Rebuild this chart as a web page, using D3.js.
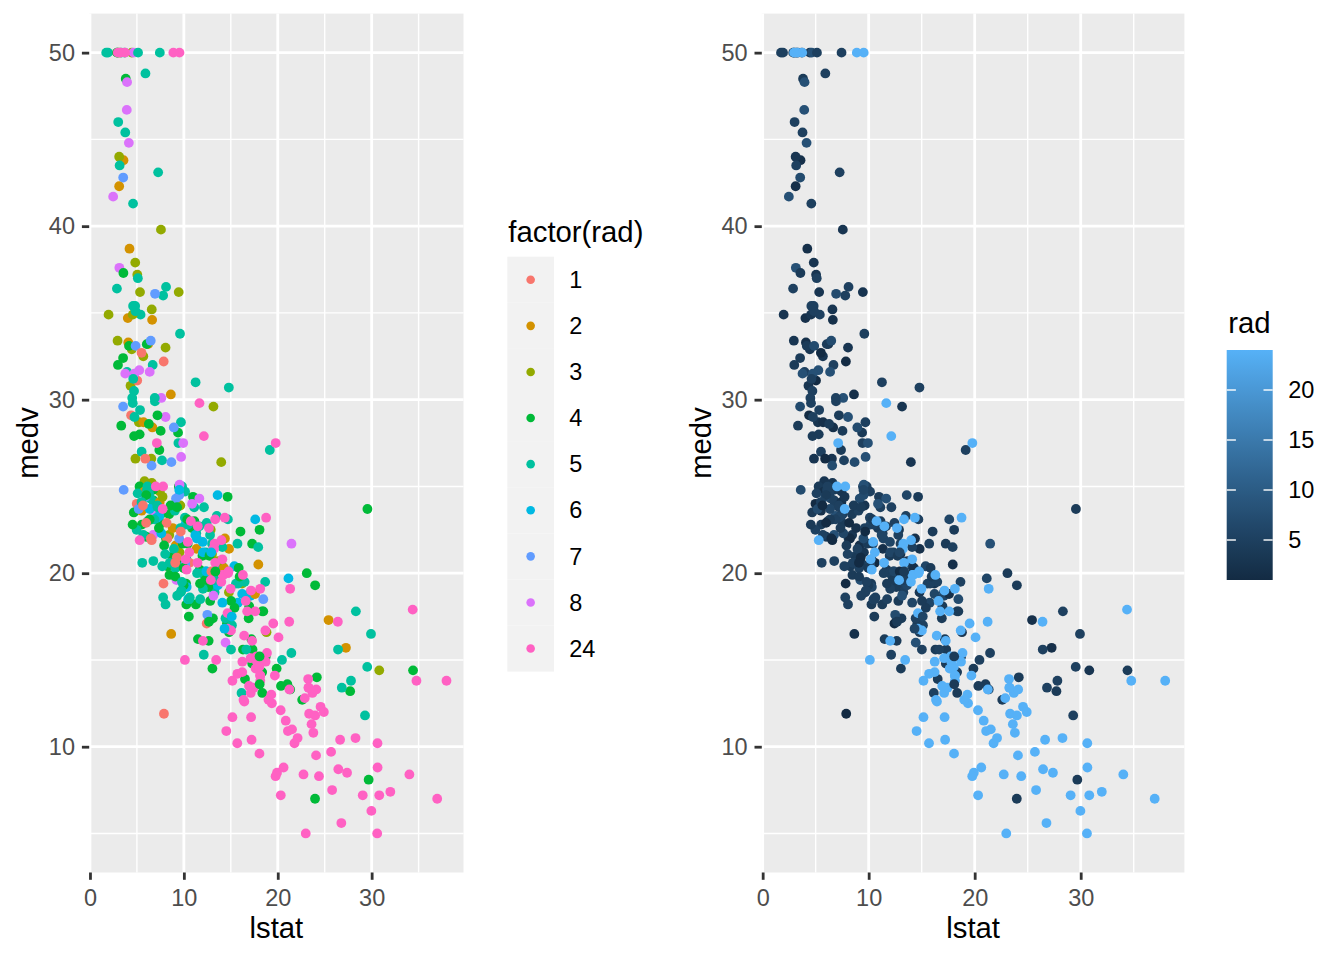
<!DOCTYPE html>
<html>
<head>
<meta charset="utf-8">
<script src="https://cdn.jsdelivr.net/npm/d3@7"></script>
<style>
  body { margin: 0; background: #ffffff; }
  text { font-family: "Liberation Sans", Arial, sans-serif; }
</style>
</head>
<body>
<div id="chart"></div>
<script>
// Boston housing: lstat, medv and rad for each tract, in row order
const lstat = [
  4.98, 9.14, 4.03, 2.94, 5.33, 5.21, 12.43, 19.15, 29.93, 17.10,
  20.45, 13.27, 15.71, 8.26, 10.26, 8.47, 6.58, 14.67, 11.69, 11.28,
  21.02, 13.83, 18.72, 19.88, 16.30, 16.51, 14.81, 17.28, 12.80, 11.98,
  22.60, 13.04, 27.71, 18.35, 20.34, 9.68, 11.41, 8.77, 10.13, 4.32,
  1.98, 4.84, 5.81, 7.44, 9.55, 10.21, 14.15, 18.80, 30.81, 16.20,
  13.45, 9.43, 5.28, 8.43, 14.80, 4.81, 5.77, 3.95, 6.86, 9.22,
  13.15, 14.44, 6.73, 9.50, 8.05, 4.67, 10.24, 8.10, 13.09, 8.79,
  6.72, 9.88, 5.52, 7.54, 6.78, 8.94, 11.97, 10.27, 12.34, 9.10,
  5.29, 7.22, 6.72, 7.51, 9.62, 6.53, 12.86, 8.44, 5.50, 5.70,
  8.81, 8.20, 8.16, 6.21, 10.59, 6.65, 11.34, 4.21, 3.57, 6.19,
  9.42, 7.67, 10.63, 13.44, 12.33, 16.47, 18.66, 14.09, 12.27, 15.55,
  13.00, 10.16, 16.21, 17.09, 10.45, 15.76, 12.04, 10.30, 15.37, 13.61,
  14.37, 14.27, 17.93, 25.41, 17.58, 14.81, 27.26, 17.19, 15.39, 18.34,
  12.60, 12.26, 11.12, 15.03, 17.31, 16.96, 16.90, 14.59, 21.32, 18.46,
  24.16, 34.41, 26.82, 26.42, 29.29, 27.80, 16.65, 29.53, 28.32, 21.45,
  14.10, 13.28, 12.12, 15.79, 15.12, 15.02, 16.14, 4.59, 6.43, 7.39,
  5.50, 1.73, 1.92, 3.32, 11.64, 9.81, 3.70, 12.14, 11.10, 11.32,
  14.43, 12.03, 14.69, 9.04, 9.64, 5.33, 10.11, 6.29, 6.92, 5.04,
  7.56, 9.45, 4.82, 5.68, 13.98, 13.15, 4.45, 6.68, 4.56, 5.39,
  5.10, 4.69, 2.87, 5.03, 4.38, 2.97, 4.08, 8.61, 6.62, 4.56,
  4.45, 7.43, 3.11, 3.81, 2.88, 10.87, 10.97, 18.06, 14.66, 23.09,
  17.27, 23.98, 16.03, 9.38, 29.55, 9.47, 13.51, 9.69, 17.92, 10.50,
  9.71, 21.46, 9.93, 7.60, 4.14, 4.63, 3.13, 6.36, 3.92, 3.76,
  11.65, 5.25, 2.47, 3.95, 8.05, 10.88, 9.54, 4.73, 6.36, 7.37,
  11.38, 12.40, 11.22, 5.19, 12.50, 18.46, 9.16, 10.15, 9.52, 6.56,
  5.90, 3.59, 3.53, 3.54, 6.57, 9.25, 3.11, 5.12, 7.79, 6.90,
  9.59, 7.26, 5.91, 11.25, 8.10, 10.45, 14.79, 7.44, 3.16, 13.65,
  13.00, 6.59, 7.73, 6.58, 3.53, 2.98, 6.05, 4.16, 7.19, 4.85,
  3.76, 4.59, 3.01, 3.16, 7.85, 8.23, 12.93, 7.14, 7.60, 9.51,
  3.33, 3.56, 4.70, 8.58, 10.40, 6.27, 7.39, 15.84, 4.97, 4.74,
  6.07, 9.50, 8.67, 4.86, 6.93, 8.93, 6.47, 7.53, 4.54, 9.97,
  12.64, 5.98, 11.72, 7.90, 9.28, 11.50, 18.33, 15.94, 10.36, 12.73,
  7.20, 6.87, 7.70, 11.74, 6.12, 5.08, 6.15, 12.79, 9.97, 7.34,
  9.09, 12.43, 7.83, 5.68, 6.75, 8.01, 9.80, 10.56, 8.51, 9.74,
  9.29, 5.49, 8.65, 7.18, 4.61, 10.53, 12.67, 6.36, 5.99, 5.89,
  5.98, 5.49, 7.79, 4.50, 8.05, 5.57, 17.60, 13.27, 11.48, 12.67,
  7.79, 14.19, 10.19, 14.64, 5.29, 7.12, 14.00, 13.33, 3.26, 3.73,
  2.96, 9.53, 8.88, 34.77, 37.97, 13.44, 23.24, 21.24, 23.69, 21.78,
  17.21, 21.08, 23.60, 24.56, 30.63, 30.81, 28.28, 31.99, 30.62, 20.85,
  17.11, 18.76, 25.68, 15.17, 16.35, 17.12, 19.37, 19.92, 30.59, 29.97,
  26.77, 20.32, 20.31, 19.77, 27.38, 22.98, 23.34, 12.13, 26.40, 19.78,
  10.11, 21.22, 34.37, 20.08, 36.98, 29.05, 25.79, 26.64, 20.62, 22.74,
  15.02, 15.70, 14.10, 23.29, 17.16, 24.39, 15.69, 14.52, 21.52, 24.08,
  17.64, 19.69, 12.03, 16.22, 15.17, 23.27, 18.05, 26.45, 34.02, 22.88,
  22.11, 19.52, 16.59, 18.85, 23.79, 23.98, 17.79, 16.44, 18.13, 19.31,
  17.44, 17.73, 17.27, 16.74, 18.71, 18.13, 19.01, 16.94, 16.23, 14.70,
  16.42, 14.65, 13.99, 10.29, 13.22, 14.13, 17.15, 21.32, 18.13, 14.76,
  16.29, 12.87, 14.36, 11.66, 18.14, 24.10, 18.68, 24.91, 18.03, 13.11,
  10.74, 7.74, 7.01, 10.42, 13.34, 10.58, 14.98, 11.45, 18.06, 23.97,
  29.68, 18.07, 13.35, 12.01, 13.59, 17.60, 21.14, 14.10, 12.92, 15.10,
  14.33, 9.67, 9.08, 5.64, 6.48, 7.88
];

const medv = [
  24.0, 21.6, 34.7, 33.4, 36.2, 28.7, 22.9, 27.1, 16.5, 18.9,
  15.0, 18.9, 21.7, 20.4, 18.2, 19.9, 23.1, 17.5, 20.2, 18.2,
  13.6, 19.6, 15.2, 14.5, 15.6, 13.9, 16.6, 14.8, 18.4, 21.0,
  12.7, 14.5, 13.2, 13.1, 13.5, 18.9, 20.0, 21.0, 24.7, 30.8,
  34.9, 26.6, 25.3, 24.7, 21.2, 19.3, 20.0, 16.6, 14.4, 19.4,
  19.7, 20.5, 25.0, 23.4, 18.9, 35.4, 24.7, 31.6, 23.3, 19.6,
  18.7, 16.0, 22.2, 25.0, 33.0, 23.5, 19.4, 22.0, 17.4, 20.9,
  24.2, 21.7, 22.8, 23.4, 24.1, 21.4, 20.0, 20.8, 21.2, 20.3,
  28.0, 23.9, 24.8, 22.9, 23.9, 26.6, 22.5, 22.2, 23.6, 28.7,
  22.6, 22.0, 22.9, 25.0, 20.6, 28.4, 21.4, 38.7, 43.8, 33.2,
  27.5, 26.5, 18.6, 19.3, 20.1, 19.5, 19.5, 20.4, 19.8, 19.4,
  21.7, 22.8, 18.8, 18.7, 18.5, 18.3, 21.2, 19.2, 20.4, 19.3,
  22.0, 20.3, 20.5, 17.3, 18.8, 21.4, 15.7, 16.2, 18.0, 14.3,
  19.2, 19.6, 23.0, 18.4, 15.6, 18.1, 17.4, 17.1, 13.3, 17.8,
  14.0, 14.4, 13.4, 15.6, 11.8, 13.8, 15.6, 14.6, 17.8, 15.4,
  21.5, 19.6, 15.3, 19.4, 17.0, 15.6, 13.1, 41.3, 24.3, 23.3,
  27.0, 50.0, 50.0, 50.0, 22.7, 25.0, 50.0, 23.8, 23.8, 22.3,
  17.4, 19.1, 23.1, 23.6, 22.6, 29.4, 23.2, 24.6, 29.9, 37.2,
  39.8, 36.2, 37.9, 32.5, 26.4, 29.6, 50.0, 32.0, 29.8, 34.9,
  37.0, 30.5, 36.4, 31.1, 29.1, 50.0, 33.3, 30.3, 34.6, 34.9,
  32.9, 24.1, 42.3, 48.5, 50.0, 22.6, 24.4, 22.5, 24.4, 20.0,
  21.7, 19.3, 22.4, 28.1, 23.7, 25.0, 23.3, 28.7, 21.5, 23.0,
  26.7, 21.7, 27.5, 30.1, 44.8, 50.0, 37.6, 31.6, 46.7, 31.5,
  24.3, 31.7, 41.7, 48.3, 29.0, 24.0, 25.1, 31.5, 23.7, 23.3,
  22.0, 20.1, 22.2, 23.7, 17.6, 18.5, 24.3, 20.5, 24.5, 26.2,
  24.4, 24.8, 29.6, 42.8, 21.9, 20.9, 44.0, 50.0, 36.0, 30.1,
  33.8, 43.1, 48.8, 31.0, 36.5, 22.8, 30.7, 50.0, 43.5, 20.7,
  21.1, 25.2, 24.4, 35.2, 32.4, 32.0, 33.2, 33.1, 29.1, 35.1,
  45.4, 35.4, 46.0, 50.0, 32.2, 22.0, 20.1, 23.2, 22.3, 24.8,
  28.5, 37.3, 27.9, 23.9, 21.7, 28.6, 27.1, 20.3, 22.5, 29.0,
  24.8, 22.0, 26.4, 33.1, 36.1, 28.4, 33.4, 28.2, 22.8, 20.3,
  16.1, 22.1, 19.4, 21.6, 23.8, 16.2, 17.8, 19.8, 23.1, 21.0,
  23.8, 23.1, 20.4, 18.5, 25.0, 24.6, 23.0, 22.2, 19.3, 22.6,
  19.8, 17.1, 19.4, 22.2, 20.7, 21.1, 19.5, 18.5, 20.6, 19.0,
  18.7, 32.7, 16.5, 23.9, 31.2, 17.5, 17.2, 23.1, 24.5, 26.6,
  22.9, 24.1, 18.6, 30.1, 18.2, 20.6, 17.8, 21.7, 22.7, 22.6,
  25.0, 19.9, 20.8, 16.8, 21.9, 27.5, 21.9, 23.1, 50.0, 50.0,
  50.0, 50.0, 50.0, 13.8, 13.8, 15.0, 13.9, 13.3, 13.1, 10.2,
  10.4, 10.9, 11.3, 12.3, 8.8, 7.2, 10.5, 7.4, 10.2, 11.5,
  15.1, 23.2, 9.7, 13.8, 12.7, 13.1, 12.5, 8.5, 5.0, 6.3,
  5.6, 7.2, 12.1, 8.3, 8.5, 5.0, 11.9, 27.9, 17.2, 27.5,
  15.0, 17.2, 17.9, 16.3, 7.0, 7.2, 7.5, 10.4, 8.8, 8.4,
  16.7, 14.2, 20.8, 13.4, 11.7, 8.3, 10.2, 10.9, 11.0, 9.5,
  14.5, 14.1, 16.1, 14.3, 11.7, 13.4, 9.6, 8.7, 8.4, 12.8,
  10.5, 17.1, 18.4, 15.4, 10.8, 11.8, 14.9, 12.6, 14.1, 13.0,
  13.4, 15.2, 16.1, 17.8, 14.9, 14.1, 12.7, 13.5, 14.9, 20.0,
  16.4, 17.7, 19.5, 20.2, 21.4, 19.9, 19.0, 19.1, 19.1, 20.1,
  19.9, 19.6, 23.2, 29.8, 13.8, 13.3, 16.7, 12.0, 14.6, 21.4,
  23.0, 23.7, 25.0, 21.8, 20.6, 21.2, 19.1, 20.6, 15.2, 7.0,
  8.1, 13.6, 20.1, 21.8, 24.5, 23.1, 19.7, 18.3, 21.2, 17.5,
  16.8, 22.4, 20.6, 23.9, 22.0, 11.9
];

const rad = [
  1, 2, 2, 3, 3, 3, 5, 5, 5, 5,
  5, 5, 5, 4, 4, 4, 4, 4, 4, 4,
  4, 4, 4, 4, 4, 4, 4, 4, 4, 4,
  4, 4, 4, 4, 4, 5, 5, 5, 5, 3,
  3, 3, 3, 3, 3, 3, 3, 3, 3, 3,
  4, 4, 4, 4, 3, 5, 2, 5, 8, 8,
  8, 8, 8, 8, 3, 4, 4, 4, 4, 4,
  4, 4, 4, 4, 5, 5, 5, 5, 5, 5,
  4, 4, 4, 4, 3, 3, 3, 3, 2, 2,
  2, 2, 1, 1, 1, 2, 2, 2, 2, 2,
  5, 5, 5, 5, 5, 5, 5, 5, 5, 5,
  5, 6, 6, 6, 6, 6, 6, 6, 6, 6,
  2, 2, 2, 2, 2, 2, 2, 4, 4, 4,
  4, 4, 4, 4, 4, 4, 4, 4, 4, 4,
  4, 4, 5, 5, 5, 5, 5, 5, 5, 5,
  5, 5, 5, 5, 5, 5, 5, 5, 5, 5,
  5, 5, 5, 5, 5, 5, 5, 5, 5, 5,
  5, 5, 5, 5, 5, 5, 5, 5, 5, 3,
  3, 3, 3, 3, 3, 3, 3, 5, 5, 5,
  5, 5, 5, 1, 1, 4, 2, 2, 2, 3,
  3, 2, 2, 4, 4, 4, 4, 4, 4, 4,
  4, 4, 4, 4, 4, 4, 5, 5, 5, 5,
  8, 8, 8, 8, 8, 8, 8, 8, 8, 8,
  8, 8, 8, 8, 8, 8, 8, 8, 6, 6,
  6, 6, 6, 7, 7, 7, 7, 7, 7, 7,
  7, 7, 7, 7, 1, 1, 3, 5, 5, 5,
  5, 5, 5, 5, 5, 5, 5, 5, 5, 3,
  3, 3, 3, 3, 4, 4, 4, 4, 4, 5,
  5, 5, 5, 1, 1, 1, 1, 6, 6, 6,
  4, 4, 4, 4, 4, 4, 4, 4, 5, 5,
  5, 7, 7, 7, 7, 7, 7, 4, 4, 4,
  4, 4, 4, 4, 4, 4, 4, 4, 4, 4,
  5, 5, 5, 5, 5, 5, 5, 5, 4, 4,
  4, 1, 1, 5, 5, 5, 5, 5, 5, 5,
  5, 1, 2, 5, 5, 4, 4, 4, 4, 1,
  1, 5, 5, 5, 5, 5, 24, 24, 24, 24,
  24, 24, 24, 24, 24, 24, 24, 24, 24, 24,
  24, 24, 24, 24, 24, 24, 24, 24, 24, 24,
  24, 24, 24, 24, 24, 24, 24, 24, 24, 24,
  24, 24, 24, 24, 24, 24, 24, 24, 24, 24,
  24, 24, 24, 24, 24, 24, 24, 24, 24, 24,
  24, 24, 24, 24, 24, 24, 24, 24, 24, 24,
  24, 24, 24, 24, 24, 24, 24, 24, 24, 24,
  24, 24, 24, 24, 24, 24, 24, 24, 24, 24,
  24, 24, 24, 24, 24, 24, 24, 24, 24, 24,
  24, 24, 24, 24, 24, 24, 24, 24, 24, 24,
  24, 24, 24, 24, 24, 24, 24, 24, 24, 24,
  24, 24, 24, 24, 24, 24, 24, 24, 24, 24,
  24, 24, 24, 24, 24, 24, 24, 24, 4, 4,
  4, 4, 4, 6, 6, 6, 6, 6, 6, 6,
  6, 1, 1, 1, 1, 1
];

const radLevels = [1, 2, 3, 4, 5, 6, 7, 8, 24];
const hueColors = ['#F8766D', '#D39200', '#93AA00', '#00BA38', '#00C19F', '#00B9E3', '#619CFF', '#DB72FB', '#FF61C3'];
const xMajor = [0, 10, 20, 30];
const xMinor = [5, 15, 25, 35];
const yMajor = [10, 20, 30, 40, 50];
const yMinor = [5, 15, 25, 35, 45];
const barTicks = [5, 10, 15, 20];

const W = 1344, H = 960;
const panelTop = 13.6, panelBottom = 872.5;
const ptR = 4.9;

const svg = d3.select('#chart')
  .append('svg')
  .attr('width', W)
  .attr('height', H);

const points = lstat.map((d, i) => ({ lstat: d, medv: medv[i], rad: rad[i] }));

// ggplot style 5% expansion of the data range
function expand(ext) {
  const pad = (ext[1] - ext[0]) * 0.05;
  return [ext[0] - pad, ext[1] + pad];
}
const xDomain = expand(d3.extent(lstat));
const yDomain = expand(d3.extent(medv));

const factorColor = d3.scaleOrdinal().domain(radLevels).range(hueColors);
const gradColor = d3.scaleLinear()
  .domain(d3.extent(rad))
  .range(['#132B43', '#56B1F7'])
  .interpolate(d3.interpolateLab);

function drawPanel(left, right, colorOf) {
  const x = d3.scaleLinear().domain(xDomain).range([left, right]);
  const y = d3.scaleLinear().domain(yDomain).range([panelBottom, panelTop]);
  const g = svg.append('g');

  // Panel background
  g.append('rect')
    .attr('x', left).attr('y', panelTop)
    .attr('width', right - left).attr('height', panelBottom - panelTop)
    .attr('fill', '#EBEBEB');

  // Minor grid
  g.append('g').selectAll('line').data(xMinor).join('line')
    .attr('x1', d => x(d)).attr('x2', d => x(d))
    .attr('y1', panelTop).attr('y2', panelBottom)
    .attr('stroke', '#fff').attr('stroke-width', 1.4);
  g.append('g').selectAll('line').data(yMinor).join('line')
    .attr('y1', d => y(d)).attr('y2', d => y(d))
    .attr('x1', left).attr('x2', right)
    .attr('stroke', '#fff').attr('stroke-width', 1.4);

  // Major grid
  g.append('g').selectAll('line').data(xMajor).join('line')
    .attr('x1', d => x(d)).attr('x2', d => x(d))
    .attr('y1', panelTop).attr('y2', panelBottom)
    .attr('stroke', '#fff').attr('stroke-width', 2.8);
  g.append('g').selectAll('line').data(yMajor).join('line')
    .attr('y1', d => y(d)).attr('y2', d => y(d))
    .attr('x1', left).attr('x2', right)
    .attr('stroke', '#fff').attr('stroke-width', 2.8);

  // Points, in row order
  g.append('g').selectAll('circle').data(points).join('circle')
    .attr('cx', d => x(d.lstat))
    .attr('cy', d => y(d.medv))
    .attr('r', ptR)
    .attr('fill', d => colorOf(d.rad));

  // Axes
  const xAxis = g.append('g')
    .attr('transform', `translate(0,${panelBottom})`)
    .call(d3.axisBottom(x).tickValues(xMajor).tickSize(7.3).tickPadding(10));
  const yAxis = g.append('g')
    .attr('transform', `translate(${left},0)`)
    .call(d3.axisLeft(y).tickValues(yMajor).tickSize(7.3).tickPadding(6.9));

  [xAxis, yAxis].forEach(a => {
    a.select('.domain').remove();
    a.selectAll('.tick line').attr('stroke', '#333333').attr('stroke-width', 2.8);
    a.selectAll('.tick text')
      .attr('fill', '#4D4D4D')
      .style('font-size', '23.5px')
      .style('font-family', '"Liberation Sans", Arial, sans-serif');
  });

  // Axis titles
  g.append('text')
    .attr('x', (left + right) / 2)
    .attr('y', 938)
    .attr('text-anchor', 'middle')
    .style('font-size', '29.3px')
    .attr('fill', '#000')
    .text('lstat');

  g.append('text')
    .attr('transform', `translate(${left - 50.9},${(panelTop + panelBottom) / 2}) rotate(-90)`)
    .attr('text-anchor', 'middle')
    .style('font-size', '29.3px')
    .attr('fill', '#000')
    .text('medv');
}

drawPanel(89.2, 463.5, d => factorColor(d));
drawPanel(761.8, 1184.4, d => gradColor(d));

// Discrete legend
const legend = svg.append('g');
const keyX = 507.3, keyY = 256.7, keyW = 46.7, keyH = 46.1;

legend.append('text')
  .attr('x', 508.3).attr('y', 241.7)
  .style('font-size', '29.3px')
  .text('factor(rad)');

radLevels.forEach((lvl, i) => {
  const row = legend.append('g')
    .attr('transform', `translate(${keyX},${keyY + i * keyH})`);
  row.append('rect')
    .attr('width', keyW).attr('height', keyH)
    .attr('fill', '#F2F2F2');
  row.append('circle')
    .attr('cx', keyW / 2).attr('cy', keyH / 2)
    .attr('r', 4.3)
    .attr('fill', factorColor(lvl));
  row.append('text')
    .attr('x', 62).attr('y', keyH / 2)
    .attr('dy', '0.35em')
    .style('font-size', '23.5px')
    .text(lvl);
});

// Colour bar legend
const barX = 1226.7, barW = 46, barTop = 350, barBottom = 580;
const barScale = d3.scaleLinear().domain(d3.extent(rad)).range([barBottom, barTop]);

const defs = svg.append('defs');
const grad = defs.append('linearGradient')
  .attr('id', 'radbar')
  .attr('x1', 0).attr('y1', 1).attr('x2', 0).attr('y2', 0);
d3.range(0, 21).forEach(k => {
  const t = k / 20;
  const v = gradColor.domain()[0] + t * (gradColor.domain()[1] - gradColor.domain()[0]);
  grad.append('stop').attr('offset', t).attr('stop-color', gradColor(v));
});

const bar = svg.append('g');
bar.append('text')
  .attr('x', 1228.3).attr('y', 332.7)
  .style('font-size', '29.3px')
  .text('rad');

bar.append('rect')
  .attr('x', barX).attr('y', barTop)
  .attr('width', barW).attr('height', barBottom - barTop)
  .attr('fill', 'url(#radbar)');

barTicks.forEach(t => {
  const ty = barScale(t);
  bar.append('line')
    .attr('x1', barX).attr('x2', barX + barW / 5)
    .attr('y1', ty).attr('y2', ty)
    .attr('stroke', '#fff').attr('stroke-width', 1.4);
  bar.append('line')
    .attr('x1', barX + barW - barW / 5).attr('x2', barX + barW)
    .attr('y1', ty).attr('y2', ty)
    .attr('stroke', '#fff').attr('stroke-width', 1.4);
  bar.append('text')
    .attr('x', 1288.3).attr('y', ty)
    .attr('dy', '0.35em')
    .style('font-size', '23.5px')
    .text(t);
});
</script>
</body>
</html>
